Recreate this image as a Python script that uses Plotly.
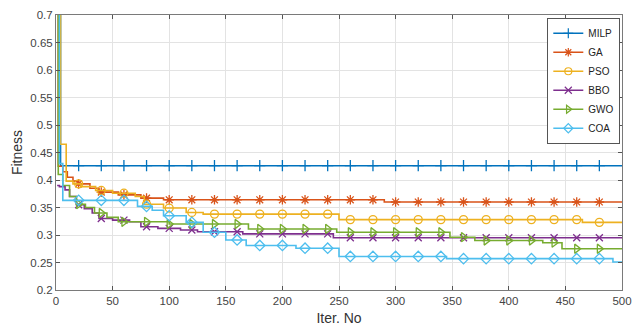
import numpy as np
import plotly.graph_objects as go

# ---- data (step-wise convergence curves, breakpoints) ----
names = ["MILP", "GA", "PSO", "BBO", "GWO", "COA"]

milp_x = [1, 4, 500]
milp_y = [0.95, 0.426, 0.426]

ga_x = [1, 2, 6, 10, 15, 20, 30, 38, 55, 75, 95, 290, 500]
ga_y = [0.95, 0.425, 0.415, 0.405, 0.398, 0.393, 0.385, 0.378, 0.373, 0.367, 0.364, 0.360, 0.360]

pso_x = [1, 4, 9, 15, 22, 35, 50, 70, 78, 95, 115, 130, 250, 465, 500]
pso_y = [0.95, 0.465, 0.398, 0.393, 0.388, 0.381, 0.376, 0.370, 0.356, 0.349, 0.341, 0.338, 0.328, 0.323, 0.323]

bbo_x = [1, 3, 8, 12, 18, 25, 32, 38, 50, 65, 75, 90, 110, 125, 165, 245, 500]
bbo_y = [0.39, 0.388, 0.382, 0.370, 0.355, 0.348, 0.340, 0.330, 0.327, 0.324, 0.315, 0.312, 0.309, 0.306, 0.302, 0.295, 0.294]

gwo_x = [1, 2, 6, 12, 18, 26, 34, 45, 55, 100, 170, 248, 348, 370, 430, 447, 500]
gwo_y = [0.95, 0.41, 0.39, 0.37, 0.356, 0.350, 0.340, 0.332, 0.324, 0.320, 0.311, 0.305, 0.296, 0.290, 0.286, 0.275, 0.275]

coa_x = [1, 3, 6, 65, 72, 85, 95, 115, 130, 150, 168, 212, 250, 345, 492, 500]
coa_y = [0.95, 0.43, 0.363, 0.363, 0.352, 0.345, 0.335, 0.323, 0.305, 0.291, 0.281, 0.276, 0.261, 0.257, 0.251, 0.251]

marker_iters = list(range(20, 481, 20))

x_ticks = list(range(0, 501, 50))
y_ticks = [0.2, 0.25, 0.3, 0.35, 0.4, 0.45, 0.5, 0.55, 0.6, 0.65, 0.7]
y_tick_labels = ["0.2", "0.25", "0.3", "0.35", "0.4", "0.45", "0.5", "0.55", "0.6", "0.65", "0.7"]

series_x = [milp_x, ga_x, pso_x, bbo_x, gwo_x, coa_x]
series_y = [milp_y, ga_y, pso_y, bbo_y, gwo_y, coa_y]

# ---- styles ----
colors = ["#0072BD", "#D95319", "#EDB120", "#7E2F8E", "#77AC30", "#4DBEEE"]
symbols = ["cross-thin-open", "asterisk-open", "circle-open", "x-thin-open",
           "triangle-right-open", "diamond-open"]
msizes = [8, 8, 8, 7, 8, 8]
FONT = "Liberation Sans, Arial, sans-serif"

fig = go.Figure()
mi = np.array(marker_iters)
for name, bx, by, c, s, ms in zip(names, series_x, series_y, colors, symbols, msizes):
    bx_a = np.array(bx)
    by_a = np.array(by)
    fig.add_trace(go.Scatter(x=bx, y=by, mode="lines", line=dict(color=c, width=1.6, shape="hv"),
                             showlegend=False, hoverinfo="skip"))
    idx = np.searchsorted(bx_a, mi, side="right") - 1
    fig.add_trace(go.Scatter(x=mi, y=by_a[idx], mode="markers",
                             marker=dict(symbol=s, size=ms, color=c, line=dict(color=c, width=1.3)),
                             showlegend=False, cliponaxis=True))
    fig.add_trace(go.Scatter(x=[None], y=[None], mode="lines+markers", name=name,
                             line=dict(color=c, width=1.6),
                             marker=dict(symbol=s, size=7, color=c, line=dict(color=c, width=1.2))))

axis_common = dict(
    showgrid=True, gridcolor="#e3e3e3", gridwidth=1,
    showline=True, linecolor="#7a7a7a", linewidth=1, mirror="allticks",
    ticks="inside", ticklen=4, tickcolor="#555555",
    tickfont=dict(family=FONT, size=11.5, color="#444444"),
    zeroline=False,
)

fig.update_xaxes(range=[0, 500], tickvals=x_ticks, **axis_common,
                 title=dict(text="Iter. No", standoff=7,
                            font=dict(family=FONT, size=14, color="#333333")))
fig.update_yaxes(range=[0.2, 0.7], tickvals=y_ticks, ticktext=y_tick_labels, **axis_common,
                 title=dict(text="Fitness", standoff=4,
                            font=dict(family=FONT, size=14, color="#333333")))

fig.update_layout(
    width=641, height=333,
    margin=dict(l=56, r=12, t=9, b=42),
    paper_bgcolor="white", plot_bgcolor="white",
    legend=dict(x=0.997, y=0.99, xanchor="right", yanchor="top",
                bgcolor="white", bordercolor="#555555", borderwidth=1,
                font=dict(family=FONT, size=10, color="#222222"),
                itemwidth=30, tracegroupgap=0),
    showlegend=True,
)

fig.write_html("out.html", config={"displayModeBar": False},
               post_script="document.body.style.margin='0';")
